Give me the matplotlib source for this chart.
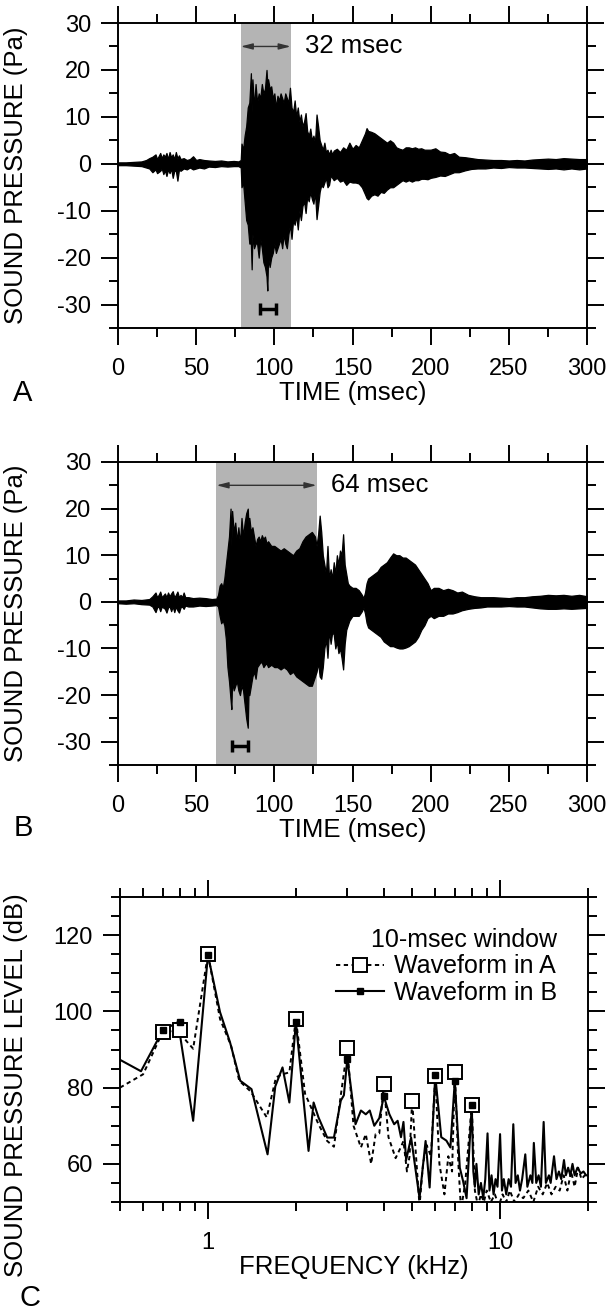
import matplotlib
matplotlib.use("Agg")
import matplotlib.pyplot as plt
from matplotlib.lines import Line2D
from matplotlib.ticker import MultipleLocator, LogLocator, NullFormatter, FuncFormatter

plt.rcParams['font.family'] = ['Liberation Sans', 'DejaVu Sans']
plt.rcParams['axes.unicode_minus'] = False

# ---- data ----
# panel A: envelope of the waveform (time in msec, upper / lower in Pa)
time_a = [0, 5, 10, 15, 18, 20, 22, 24, 25, 27, 28, 29, 30, 31, 32, 33, 34, 35, 36, 37, 38, 39, 40,
          42, 44, 46, 48, 50, 52, 55, 58, 62, 66, 70, 74, 77, 78.5, 79, 80, 81, 82, 83, 84, 85, 85.5,
          86, 87, 88, 89, 90, 91, 92, 93, 94, 95, 95.5, 96, 97, 98, 99, 100, 101, 102, 103, 104, 105,
          106, 107, 108, 109, 110, 111, 112, 113, 114, 115, 116, 117, 118, 119, 120, 121, 122, 123,
          124, 125, 126, 127, 128, 129, 130, 131, 132, 133, 134, 135, 136, 137, 138, 140, 142, 144,
          146, 148, 150, 152, 154, 156, 158, 159, 160, 162, 164, 166, 168, 170, 172, 174, 176, 178,
          180, 182, 184, 186, 188, 190, 192, 194, 196, 198, 200, 203, 206, 209, 212, 215, 218, 222,
          226, 230, 235, 240, 245, 250, 255, 260, 265, 270, 275, 280, 285, 290, 295, 300]
upper_a = [0.3, 0.3, 0.4, 0.5, 0.8, 1.2, 1.5, 2.0, 1.0, 2.3, 1.2, 2.0, 1.5, 2.3, 1.0, 2.5, 1.4, 2.0,
           1.0, 2.5, 1.2, 1.8, 1.0, 1.2, 0.8, 1.0, 1.6, 0.8, 1.0, 0.8, 0.7, 0.6, 0.7, 0.5, 0.6, 0.5,
           0.8, 4.3, 3.0, 6.0, 8.0, 12.0, 13.0, 19.3, 11.0, 18.0, 12.0, 17.0, 13.0, 15.0, 14.0, 17.0,
           15.0, 16.0, 20.0, 17.0, 18.0, 16.0, 16.5, 14.0, 15.0, 12.0, 14.5, 13.5, 15.0, 14.0, 13.0,
           15.0, 14.0, 13.0, 16.2, 12.0, 11.0, 13.5, 10.0, 12.0, 9.0, 10.5, 8.0, 9.0, 10.8, 7.0, 6.0,
           7.5, 5.0, 6.0, 4.5, 10.5, 8.0, 5.0, 4.0, 3.0, 4.5, 2.5, 3.0, 2.0, 3.0, 2.0, 2.8, 3.2, 2.5,
           3.5, 3.0, 4.5, 3.2, 4.0, 3.5, 5.0, 6.5, 7.6, 7.0, 6.8, 6.5, 6.0, 5.5, 5.0, 4.5, 5.0, 4.5,
           3.5, 3.2, 3.0, 3.5, 3.5, 3.3, 3.5, 3.2, 3.3, 3.0, 3.0, 3.0, 3.3, 2.6, 2.5, 2.0, 2.3, 1.5,
           1.4, 1.2, 1.0, 0.9, 0.8, 0.8, 0.7, 0.8, 0.7, 0.9, 1.0, 1.1, 1.0, 1.2, 1.1, 1.0, 1.0]
lower_a = [-0.3, -0.3, -0.4, -0.5, -0.8, -1.0, -1.8, -1.2, -2.0, -1.5, -1.0, -2.2, -1.4, -2.6, -1.2,
           -2.0, -1.0, -3.0, -1.5, -1.5, -3.6, -1.2, -1.5, -1.0, -1.2, -0.8, -1.2, -1.0, -0.8, -1.0,
           -0.6, -0.7, -0.5, -0.6, -0.5, -0.5, -0.8, -5.0, -4.0, -8.0, -12.0, -13.0, -17.0, -17.0,
           -22.5, -15.0, -18.0, -17.0, -17.0, -20.0, -16.0, -18.0, -21.0, -22.0, -24.0, -27.0, -20.0,
           -22.0, -20.0, -19.0, -17.0, -19.0, -18.0, -17.0, -16.0, -18.0, -15.0, -17.0, -18.0, -15.0,
           -13.0, -16.0, -12.0, -13.0, -11.0, -14.0, -10.0, -12.0, -9.0, -8.0, -10.5, -7.0, -8.0,
           -6.0, -7.5, -8.5, -6.0, -11.8, -9.0, -6.0, -4.5, -5.0, -4.0, -3.0, -5.0, -4.5, -2.5, -3.0,
           -3.5, -3.0, -3.8, -3.5, -4.5, -3.8, -4.0, -4.0, -4.2, -5.0, -6.5, -7.3, -7.6, -6.8, -6.5,
           -6.8, -6.0, -6.2, -5.5, -5.0, -5.0, -4.5, -4.0, -3.5, -3.8, -3.5, -3.8, -3.5, -3.5, -3.2,
           -3.2, -3.3, -3.0, -2.8, -2.5, -2.6, -2.2, -1.8, -1.8, -1.4, -1.1, -1.0, -1.0, -0.8, -0.9,
           -0.7, -0.8, -0.8, -0.9, -1.0, -1.1, -1.0, -1.2, -1.0, -1.2, -1.0]

# panel B: envelope of the waveform
time_b = [0, 5, 10, 15, 20, 22, 24, 25, 26, 27, 28, 30, 31, 32, 33, 34, 35, 36, 37, 38, 39, 40, 41,
          42, 43, 45, 48, 52, 56, 60, 63, 64, 65, 66, 67, 68, 69, 70, 71, 72, 72.5, 73, 74, 75, 76,
          77, 78, 79, 80, 81, 82, 83, 83.5, 84, 85, 86, 87, 88, 89, 90, 91, 92, 93, 94, 95, 96, 98,
          100, 102, 104, 106, 108, 110, 112, 114, 116, 118, 120, 122, 124, 126, 127, 128, 129, 130,
          131, 132, 133, 134, 135, 136, 137, 138, 139, 140, 141, 142, 143, 144, 145, 146, 147, 148,
          150, 152, 154, 156, 157, 158, 159, 160, 162, 164, 166, 168, 170, 172, 174, 176, 178, 180,
          182, 184, 186, 188, 190, 192, 194, 196, 198, 200, 202, 205, 208, 211, 214, 217, 220, 224,
          228, 232, 236, 240, 245, 250, 255, 260, 265, 270, 275, 280, 285, 290, 295, 300]
upper_b = [0.3, 0.3, 0.5, 0.4, 0.6, 1.2, 2.0, 1.0, 1.5, 2.2, 1.0, 1.8, 1.0, 2.0, 1.2, 1.8, 2.3, 1.0,
           1.5, 2.2, 1.0, 1.5, 1.0, 2.0, 1.0, 1.0, 0.8, 0.9, 0.8, 0.6, 0.7, 1.5, 3.5, 4.0, 3.0, 5.0,
           8.0, 11.0, 14.0, 20.0, 12.0, 19.5, 15.0, 17.0, 13.0, 16.0, 12.5, 18.0, 14.0, 17.0, 19.0,
           20.0, 16.0, 18.0, 15.0, 16.0, 14.0, 12.0, 13.5, 14.0, 13.0, 14.3, 13.5, 14.0, 12.5, 13.0,
           12.0, 12.0, 11.5, 11.0, 11.5, 11.0, 10.5, 10.0, 11.0, 11.5, 13.0, 14.0, 14.5, 15.0, 14.0,
           12.0, 14.5, 18.5, 15.0, 10.0, 8.0, 6.0, 12.0, 5.0, 7.0, 5.0, 8.5, 6.0, 10.0, 8.0, 11.0,
           10.0, 14.5, 8.0, 6.0, 4.0, 3.5, 3.0, 3.0, 2.5, 1.5, 0.8, 2.0, 4.0, 5.0, 5.5, 6.0, 6.5, 7.5,
           8.0, 8.5, 9.5, 10.4, 10.0, 10.0, 9.5, 9.5, 9.0, 8.5, 8.0, 7.0, 6.0, 5.0, 4.0, 2.5, 3.0,
           3.0, 2.5, 2.8, 2.5, 2.0, 2.2, 1.5, 1.2, 1.0, 1.0, 1.0, 0.9, 0.8, 1.0, 1.0, 1.2, 1.3, 1.5,
           1.4, 1.5, 1.3, 1.5, 1.2]
lower_b = [-0.3, -0.4, -0.3, -0.5, -0.6, -1.0, -2.2, -1.2, -1.0, -2.0, -1.0, -1.5, -2.3, -1.2, -1.0,
           -2.0, -1.0, -2.2, -1.0, -1.8, -2.3, -1.2, -1.0, -1.5, -0.8, -1.0, -1.0, -0.8, -0.9, -0.8,
           -0.7, -1.0, -3.0, -4.6, -4.0, -5.0, -8.0, -14.0, -17.0, -21.0, -23.0, -17.0, -19.0, -18.0,
           -17.0, -19.0, -20.0, -18.0, -19.0, -22.0, -25.0, -27.0, -19.0, -20.0, -18.0, -16.0, -15.0,
           -16.5, -14.0, -13.5, -13.0, -13.0, -14.0, -13.5, -13.2, -14.0, -13.5, -14.0, -14.0, -14.5,
           -14.0, -14.5, -15.5, -15.0, -16.0, -16.5, -17.0, -17.5, -18.0, -18.0, -16.0, -15.0, -13.0,
           -16.0, -16.5, -14.0, -10.0, -8.0, -12.0, -6.0, -9.0, -6.5, -7.0, -10.0, -8.5, -11.0, -10.0,
           -12.0, -14.5, -9.0, -6.0, -5.0, -4.0, -3.0, -3.0, -3.0, -2.0, -1.2, -2.5, -4.5, -5.5, -6.0,
           -6.5, -7.0, -7.5, -8.5, -9.0, -9.5, -9.5, -9.8, -10.0, -10.0, -9.8, -9.5, -9.0, -8.5, -7.5,
           -6.0, -5.0, -3.5, -3.0, -3.5, -3.0, -3.0, -2.5, -2.5, -2.2, -1.8, -1.5, -1.3, -1.2, -1.0,
           -1.0, -1.0, -0.9, -1.0, -1.0, -1.2, -1.4, -1.5, -1.5, -1.4, -1.5, -1.4, -1.3]

window_a = [78.5, 110.5]     # 32 msec
window_b = [63.0, 127.0]     # 64 msec
bar_a = [91, 101]            # 10-msec analysis window
bar_b = [73, 83]

# panel C: spectra (kHz, dB)
freq_a = [0.5, 0.6, 0.7, 0.8, 0.84, 0.89, 1.0, 1.1, 1.2, 1.28, 1.4, 1.59, 1.71, 1.8, 1.9, 2.0,
          2.15, 2.39, 2.56, 2.7, 2.85, 3.0, 3.15, 3.34, 3.47, 3.62, 3.75, 3.86, 4.0, 4.15, 4.39,
          4.55, 4.67, 4.8, 4.9, 5.0, 5.2, 5.3, 5.45, 5.6, 5.8, 6.0, 6.2, 6.45, 6.65, 6.85, 7.0, 7.2,
          7.35, 7.6, 8.0, 8.2, 8.4, 8.6, 8.8, 9.0, 9.3, 9.6, 9.9, 10.2, 10.5, 10.8, 11.2, 11.6, 12.0,
          12.5, 13.0, 13.5, 14.0, 14.5, 15.0, 15.5, 16.0, 16.5, 17.0, 17.5, 18.0, 18.5, 19.0, 19.5, 20.0]
spl_a = [80, 83.5, 94.6, 95, 92.4, 90.2, 115, 98, 91, 81.8, 79, 72.2, 82.7, 83.5, 84, 98.1, 78.4,
         70.4, 66, 64.5, 78, 90.3, 70, 64.3, 67.8, 60, 67.8, 68, 81, 67, 61.5, 64, 66, 58, 62, 76.6,
         58, 49, 60, 65, 62, 83, 60, 52, 62, 58, 84.1, 60, 48, 55, 75.4, 53, 49, 52, 50, 53, 50, 52,
         49, 52, 50, 53, 50, 52, 51, 53, 50, 54, 52, 55, 52, 54, 53, 57, 53, 58, 54, 59, 56, 57, 57]

freq_b = [0.5, 0.59, 0.7, 0.79, 0.89, 1.0, 1.1, 1.19, 1.29, 1.41, 1.6, 1.7, 1.8, 1.9, 2.0, 2.21,
          2.3, 2.39, 2.56, 2.7, 2.85, 2.92, 3.0, 3.2, 3.34, 3.47, 3.58, 3.71, 3.86, 4.0, 4.18, 4.34,
          4.46, 4.58, 4.67, 4.77, 4.96, 5.3, 5.56, 5.74, 6.0, 6.29, 6.55, 6.76, 7.0, 7.28, 7.47,
          7.68, 8.0, 8.1, 8.2, 8.3, 8.45, 8.6, 8.76, 8.9, 9.06, 9.2, 9.35, 9.5, 9.65, 9.8, 10.0,
          10.15, 10.3, 10.5, 10.7, 10.9, 11.1, 11.3, 11.5, 11.7, 11.9, 12.2, 12.4, 12.7, 12.9, 13.05,
          13.3, 13.55, 13.8, 14.1, 14.35, 14.7, 14.9, 15.3, 15.6, 15.9, 16.2, 16.55, 16.8, 17.1,
          17.4, 17.7, 18.0, 18.4, 18.9, 19.3, 19.7, 20.0]
spl_b = [87.3, 84.3, 95, 97.2, 71.3, 114.8, 99.8, 91.9, 81.8, 79.6, 62.5, 80.3, 85.3, 76.1, 97.2,
         63.4, 76.1, 72.2, 66.9, 66.9, 76.6, 78, 87.6, 70.4, 74, 73, 74, 70, 72, 77.7, 73, 70.4,
         71.3, 67, 71, 61, 66.9, 51, 66, 53.8, 83.2, 67, 66.1, 64.3, 81.8, 59, 55.5, 51, 75.4, 58,
         54, 60, 52, 55, 51, 56, 68, 53, 57, 52, 56, 54, 67.8, 53, 56, 52, 56, 54, 70.4, 55, 57, 53,
         56, 62.5, 54, 57, 55, 65.5, 55, 57, 54, 71, 55, 57, 55, 62, 56, 58, 56, 61, 57, 59, 57, 60,
         57, 59, 57.5, 58, 57, 57]

peak_freq_a = [0.7, 0.8, 1, 2, 3, 4, 5, 6, 7, 8]
peak_spl_a = [94.6, 95, 115, 98.1, 90.3, 81, 76.6, 83, 84.1, 75.4]
peak_freq_b = [0.7, 0.8, 1, 2, 3, 4, 6, 7, 8]
peak_spl_b = [95, 97.2, 114.8, 97.2, 87.6, 77.7, 83.2, 81.8, 75.4]

# ---- figure ----
W, H = 610, 1316
fig = plt.figure(figsize=(W / 100, H / 100), dpi=100)
axA = fig.add_axes([118 / W, 1 - 328 / H, 469 / W, 305 / H])
axB = fig.add_axes([118 / W, 1 - 765 / H, 469 / W, 303 / H])
axC = fig.add_axes([120 / W, 1 - 1202 / H, 468 / W, 305 / H])

tick_fs = 17
label_fs = 18.5


def style_axes(ax):
    for s in ax.spines.values():
        s.set_linewidth(1.4)
    ax.tick_params(which='both', direction='out', top=True, right=True,
                   width=1.4, labelsize=tick_fs)
    ax.tick_params(which='major', length=12.5)
    ax.tick_params(which='minor', length=6.5)
    ax.tick_params(axis='y', pad=7)
    ax.tick_params(axis='x', pad=9)


def waveform_panel(ax, t, up, lo, window, bar, txt):
    ax.axvspan(window[0], window[1], color='#b4b4b4', lw=0, zorder=0)
    ax.fill_between(t, lo, up, color='k', lw=0.9, zorder=2)
    ax.annotate('', xy=(window[0], 25), xytext=(window[1], 25),
                arrowprops=dict(arrowstyle='<|-|>,head_length=0.7,head_width=0.18',
                                color='#333333', lw=1.0, shrinkA=0, shrinkB=0))
    ax.text(window[1] + 9, 25, txt, fontsize=18.5, ha='left', va='center')
    mid = (bar[0] + bar[1]) / 2
    ax.errorbar([mid], [-31], xerr=[(bar[1] - bar[0]) / 2], fmt='none', ecolor='k',
                elinewidth=2.5, capsize=4, capthick=2.5, zorder=3)
    ax.set_xlim(0, 300)
    ax.set_ylim(-35, 30)
    ax.xaxis.set_major_locator(MultipleLocator(50))
    ax.xaxis.set_minor_locator(MultipleLocator(25))
    ax.yaxis.set_major_locator(MultipleLocator(10))
    ax.yaxis.set_minor_locator(MultipleLocator(5))
    style_axes(ax)
    ax.set_xlabel('TIME (msec)', fontsize=label_fs, labelpad=1)
    ax.set_ylabel('SOUND PRESSURE (Pa)', fontsize=label_fs)
    ax.yaxis.set_label_coords(-0.192, 0.5)


waveform_panel(axA, time_a, upper_a, lower_a, window_a, bar_a, '32 msec')
waveform_panel(axB, time_b, upper_b, lower_b, window_b, bar_b, '64 msec')

# panel C
axC.plot(freq_a, spl_a, color='k', lw=1.4, ls=(0, (2.2, 1.8)), zorder=2)
axC.plot(freq_b, spl_b, color='k', lw=1.5, zorder=3)
axC.plot(peak_freq_a, peak_spl_a, ls='none', marker='s', ms=10, mfc='white', mec='k', mew=1.4, zorder=4)
axC.plot(peak_freq_b, peak_spl_b, ls='none', marker='s', ms=4.5, mfc='k', mec='k', zorder=5)
axC.set_xscale('log')
axC.set_xlim(0.5, 20)
axC.set_ylim(50, 130)
axC.xaxis.set_major_locator(LogLocator(base=10))
axC.xaxis.set_minor_locator(LogLocator(base=10, subs=[2, 3, 4, 5, 6, 7, 8, 9]))
axC.xaxis.set_major_formatter(FuncFormatter(lambda v, p: '%g' % v))
axC.xaxis.set_minor_formatter(NullFormatter())
axC.yaxis.set_major_locator(MultipleLocator(20))
axC.yaxis.set_minor_locator(MultipleLocator(5))
style_axes(axC)
axC.set_xlabel('FREQUENCY (kHz)', fontsize=label_fs, labelpad=1)
axC.set_ylabel('SOUND PRESSURE LEVEL (dB)', fontsize=label_fs)
axC.yaxis.set_label_coords(-0.197, 0.384)

h_a = Line2D([], [], color='k', lw=1.4, ls=(0, (2.2, 1.8)), marker='s', ms=10, mfc='white', mec='k', mew=1.4)
h_b = Line2D([], [], color='k', lw=1.5, marker='s', ms=4.5, mfc='k', mec='k')
leg = axC.legend([h_a, h_b], ['Waveform in A', 'Waveform in B'], title='10-msec window',
                 loc='upper right', bbox_to_anchor=(0.96, 0.94), frameon=False,
                 fontsize=18, title_fontsize=18, handlelength=1.9, handletextpad=0.4,
                 labelspacing=0.1, borderpad=0, alignment='right', numpoints=1)

fig.text(23 / W, 1 - 393 / H, 'A', fontsize=21, ha='center', va='center')
fig.text(23 / W, 1 - 828 / H, 'B', fontsize=21, ha='center', va='center')
fig.text(30 / W, 1 - 1298 / H, 'C', fontsize=21, ha='center', va='center')

fig.savefig('out.png', dpi=100)
